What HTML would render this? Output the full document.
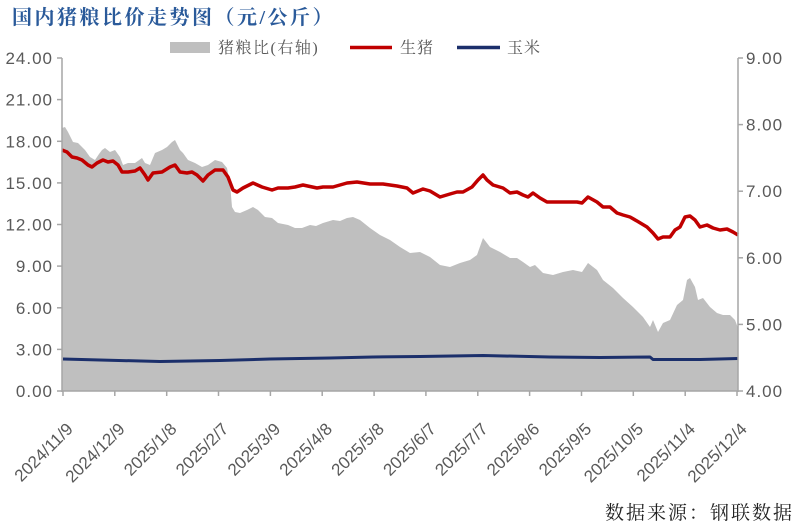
<!DOCTYPE html>
<html>
<head>
<meta charset="utf-8">
<style>
html,body{margin:0;padding:0;background:#fff;}
svg{display:block;}
</style>
</head>
<body>
<svg width="800" height="524" viewBox="0 0 800 524" xmlns="http://www.w3.org/2000/svg">
  <rect width="800" height="524" fill="#ffffff"/>
  <!-- Title -->
  <text x="12" y="24" font-family="'Liberation Serif','Noto Serif CJK SC',serif" font-weight="700" font-size="20" letter-spacing="2.5" fill="#2a5a9a">国内猪粮比价走势图（元/公斤）</text>

  <!-- Legend -->
  <rect x="170" y="42" width="40" height="11" fill="#bfbfbf"/>
  <text x="218" y="53" font-family="'Liberation Serif','Noto Serif CJK SC',serif" font-size="16" letter-spacing="1.5" fill="#595959">猪粮比(右轴)</text>
  <line x1="350" y1="47.5" x2="392" y2="47.5" stroke="#c00000" stroke-width="3.5"/>
  <text x="400" y="53" font-family="'Liberation Serif','Noto Serif CJK SC',serif" font-size="16" letter-spacing="1" fill="#595959">生猪</text>
  <line x1="457" y1="47.5" x2="500" y2="47.5" stroke="#1b2f6b" stroke-width="3.5"/>
  <text x="507" y="53" font-family="'Liberation Serif','Noto Serif CJK SC',serif" font-size="16" letter-spacing="1" fill="#595959">玉米</text>

  <!-- Grey area (ratio, right axis) -->
  <path fill="#bfbfbf" d="M62,391 L62,128 L65,127 L68,132 L73,142 L78,143 L82,147 L85,150 L90,157 L95,160 L99,154 L102,150 L105,148 L110,152 L115,150 L120,157 L123,165 L128,163 L135,163 L142,158 L145,163 L150,165 L155,153 L162,150 L167,147 L172,142 L175,140 L180,150 L183,153 L188,160 L195,163 L202,167 L208,165 L215,160 L222,162 L227,168 L230,183 L232,207 L235,212 L240,213 L247,210 L253,207 L258,210 L265,217 L272,218 L278,223 L288,225 L295,228 L302,228 L310,225 L316,226 L323,223 L333,220 L340,221 L347,218 L353,217 L360,220 L370,228 L380,235 L390,240 L400,247 L410,253 L420,252 L430,257 L440,265 L450,267 L460,263 L470,260 L477,255 L483,238 L490,247 L500,252 L510,258 L517,258 L523,262 L530,267 L535,265 L543,273 L553,275 L563,272 L573,270 L582,272 L588,263 L597,270 L603,280 L613,288 L623,298 L633,307 L643,317 L650,327 L653,320 L658,332 L663,323 L670,320 L677,305 L683,300 L687,280 L690,278 L695,287 L698,300 L703,298 L710,307 L717,313 L723,315 L730,315 L735,320 L738,328 L738,391 Z"/>

  <!-- Red line (live hog) -->
  <polyline fill="none" stroke="#c00000" stroke-width="3.5" stroke-linejoin="round" points="62,150 67,152 72,157 77,158 82,160 88,165 92,167 97,163 103,160 108,162 113,161 118,165 122,172 128,172 135,171 140,168 145,175 148,180 153,173 162,172 170,167 175,165 180,172 187,173 192,172 197,175 203,181 208,175 215,170 223,170 228,177 233,190 237,192 243,188 253,183 262,187 272,190 278,188 288,188 295,187 303,185 317,188 323,187 333,187 347,183 357,182 370,184 383,184 397,186 407,188 413,193 423,189 430,191 440,197 450,194 457,192 463,192 472,187 478,180 483,175 487,180 493,185 503,188 510,193 517,192 523,195 528,197 533,193 540,198 547,202 557,202 567,202 577,202 582,203 588,197 597,202 603,207 610,207 617,213 623,215 630,217 637,221 647,227 653,233 658,239 663,237 670,237 675,230 680,227 685,217 690,216 695,220 700,227 707,225 713,228 720,230 727,229 733,232 738,235"/>

  <!-- Blue line (corn) -->
  <polyline fill="none" stroke="#1b2f6b" stroke-width="3" stroke-linejoin="round" points="63,359 100,360 160,361.5 220,360.5 270,359 330,358 373,357 420,356.5 483,355.5 550,357 600,357.5 650,357 653,359.5 700,359.5 738,358.5"/>

  <!-- Axes -->
  <g stroke="#a6a6a6" stroke-width="1.5" fill="none">
    <line x1="62" y1="58" x2="62" y2="392"/>
    <line x1="738" y1="58" x2="738" y2="392"/>
    <line x1="62" y1="391" x2="738" y2="391"/>
    <!-- left ticks -->
    <line x1="57" y1="58" x2="62" y2="58"/>
    <line x1="57" y1="99.6" x2="62" y2="99.6"/>
    <line x1="57" y1="141.3" x2="62" y2="141.3"/>
    <line x1="57" y1="182.9" x2="62" y2="182.9"/>
    <line x1="57" y1="224.5" x2="62" y2="224.5"/>
    <line x1="57" y1="266.1" x2="62" y2="266.1"/>
    <line x1="57" y1="307.8" x2="62" y2="307.8"/>
    <line x1="57" y1="349.4" x2="62" y2="349.4"/>
    <line x1="57" y1="391" x2="62" y2="391"/>
    <!-- right ticks -->
    <line x1="738" y1="58" x2="743" y2="58"/>
    <line x1="738" y1="124.6" x2="743" y2="124.6"/>
    <line x1="738" y1="191.2" x2="743" y2="191.2"/>
    <line x1="738" y1="257.8" x2="743" y2="257.8"/>
    <line x1="738" y1="324.4" x2="743" y2="324.4"/>
    <line x1="738" y1="391" x2="743" y2="391"/>
    <!-- bottom ticks -->
    <line x1="63" y1="391" x2="63" y2="396"/>
    <line x1="114.8" y1="391" x2="114.8" y2="396"/>
    <line x1="166.7" y1="391" x2="166.7" y2="396"/>
    <line x1="218.5" y1="391" x2="218.5" y2="396"/>
    <line x1="270.4" y1="391" x2="270.4" y2="396"/>
    <line x1="322.2" y1="391" x2="322.2" y2="396"/>
    <line x1="374.1" y1="391" x2="374.1" y2="396"/>
    <line x1="425.9" y1="391" x2="425.9" y2="396"/>
    <line x1="477.8" y1="391" x2="477.8" y2="396"/>
    <line x1="529.6" y1="391" x2="529.6" y2="396"/>
    <line x1="581.5" y1="391" x2="581.5" y2="396"/>
    <line x1="633.3" y1="391" x2="633.3" y2="396"/>
    <line x1="685.2" y1="391" x2="685.2" y2="396"/>
    <line x1="737" y1="391" x2="737" y2="396"/>
  </g>

  <!-- Left axis labels -->
  <g font-family="'Liberation Sans',sans-serif" font-size="17" fill="#595959" text-anchor="end" letter-spacing="1">
    <text x="53" y="64">24.00</text>
    <text x="53" y="105.6">21.00</text>
    <text x="53" y="147.3">18.00</text>
    <text x="53" y="188.9">15.00</text>
    <text x="53" y="230.5">12.00</text>
    <text x="53" y="272.1">9.00</text>
    <text x="53" y="313.8">6.00</text>
    <text x="53" y="355.4">3.00</text>
    <text x="53" y="397">0.00</text>
  </g>

  <!-- Right axis labels -->
  <g font-family="'Liberation Sans',sans-serif" font-size="17" fill="#595959" letter-spacing="1">
    <text x="746" y="64">9.00</text>
    <text x="746" y="130.6">8.00</text>
    <text x="746" y="197.2">7.00</text>
    <text x="746" y="263.8">6.00</text>
    <text x="746" y="330.4">5.00</text>
    <text x="746" y="397">4.00</text>
  </g>

  <!-- X axis labels -->
  <g font-family="'Liberation Sans',sans-serif" font-size="17" fill="#595959" text-anchor="end">
    <text transform="translate(74,430) rotate(-45)">2024/11/9</text>
    <text transform="translate(125.8,430) rotate(-45)">2024/12/9</text>
    <text transform="translate(177.7,430) rotate(-45)">2025/1/8</text>
    <text transform="translate(229.5,430) rotate(-45)">2025/2/7</text>
    <text transform="translate(281.4,430) rotate(-45)">2025/3/9</text>
    <text transform="translate(333.2,430) rotate(-45)">2025/4/8</text>
    <text transform="translate(385.1,430) rotate(-45)">2025/5/8</text>
    <text transform="translate(436.9,430) rotate(-45)">2025/6/7</text>
    <text transform="translate(488.8,430) rotate(-45)">2025/7/7</text>
    <text transform="translate(540.6,430) rotate(-45)">2025/8/6</text>
    <text transform="translate(592.5,430) rotate(-45)">2025/9/5</text>
    <text transform="translate(644.3,430) rotate(-45)">2025/10/5</text>
    <text transform="translate(696.2,430) rotate(-45)">2025/11/4</text>
    <text transform="translate(748,430) rotate(-45)">2025/12/4</text>
  </g>

  <!-- Source -->
  <text x="605" y="519" font-family="'Liberation Serif','Noto Serif CJK SC',serif" font-size="19" letter-spacing="2" fill="#222">数据来源：钢联数据</text>
</svg>
</body>
</html>
